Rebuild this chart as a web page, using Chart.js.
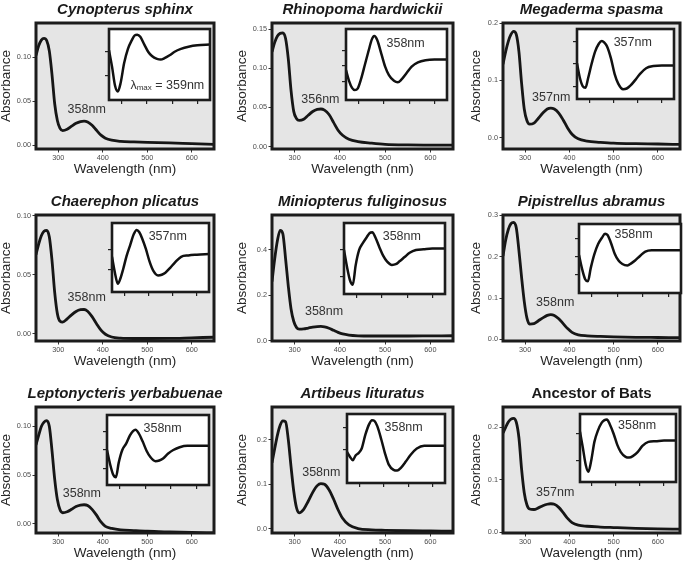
<!DOCTYPE html>
<html>
<head>
<meta charset="utf-8">
<title>Bat SWS1 opsin absorbance spectra</title>
<script src="https://cdn.jsdelivr.net/npm/chart.js@4.4.1/dist/chart.umd.min.js"></script>
<style>
  html, body { margin: 0; padding: 0; background: #fff; }
  #page { position: relative; width: 685px; height: 561px; overflow: hidden; }
  #page canvas { position: absolute; }
</style>
</head>
<body>
<div id="page"></div>
<script>
// wavelength grid (nm) for the main spectra
const wavelengths = [250, 256, 262, 268, 274, 280, 286, 292, 298, 304, 310, 320, 330, 340, 350, 358, 366, 376, 386, 396, 406, 420, 440, 470, 500, 550, 600, 650];
// wavelength grid (nm) for the inset difference spectra
const insetWavelengths = [250, 262, 274, 285, 296, 310, 325, 340, 352, 362, 374, 390, 405, 420, 440, 455, 470, 490, 510, 535, 565, 600, 650];
const xTicks = [300, 400, 500, 600];

const titles = ['Cynopterus sphinx', 'Rhinopoma hardwickii', 'Megaderma spasma',
  'Chaerephon plicatus', 'Miniopterus fuliginosus', 'Pipistrellus abramus',
  'Leptonycteris yerbabuenae', 'Artibeus lituratus', 'Ancestor of Bats'];
const mainPeaks = ['358nm', '356nm', '357nm', '358nm', '358nm', '358nm', '358nm', '358nm', '357nm'];
const insetPeaks = ['359nm', '358nm', '357nm', '357nm', '358nm', '358nm', '358nm', '358nm', '358nm'];

// absorbance
const cynopterus   = [0.102, 0.113, 0.1195, 0.1215, 0.119, 0.107, 0.080, 0.047, 0.028, 0.019, 0.0165, 0.018, 0.0215, 0.0248, 0.0268, 0.0272, 0.0262, 0.0225, 0.0168, 0.0113, 0.0078, 0.0055, 0.0042, 0.0035, 0.003, 0.0025, 0.0016, 0.0008];
const rhinopoma    = [0.121, 0.133, 0.141, 0.1445, 0.145, 0.138, 0.112, 0.072, 0.045, 0.036, 0.0335, 0.035, 0.040, 0.0448, 0.0475, 0.048, 0.0465, 0.041, 0.031, 0.021, 0.0145, 0.0095, 0.0065, 0.0045, 0.003, 0.0022, 0.002, 0.002];
const megaderma    = [0.128, 0.150, 0.168, 0.180, 0.1855, 0.180, 0.150, 0.095, 0.050, 0.030, 0.0235, 0.0255, 0.034, 0.043, 0.050, 0.0517, 0.050, 0.043, 0.031, 0.017, 0.006, -0.002, -0.006, -0.008, -0.0095, -0.0105, -0.011, -0.0118];
const chaerephon   = [0.067, 0.076, 0.083, 0.0868, 0.0875, 0.082, 0.062, 0.035, 0.017, 0.0105, 0.0098, 0.0125, 0.016, 0.0188, 0.0203, 0.0205, 0.019, 0.0145, 0.0085, 0.003, -0.0005, -0.0028, -0.0038, -0.0041, -0.0041, -0.004, -0.0035, -0.003];
const miniopterus  = [0.26, 0.36, 0.44, 0.485, 0.47, 0.36, 0.24, 0.14, 0.085, 0.058, 0.050, 0.051, 0.055, 0.059, 0.0615, 0.062, 0.060, 0.054, 0.045, 0.036, 0.029, 0.024, 0.021, 0.020, 0.020, 0.020, 0.0205, 0.021];
const pipistrellus = [0.202, 0.240, 0.266, 0.280, 0.283, 0.270, 0.215, 0.150, 0.092, 0.052, 0.037, 0.038, 0.045, 0.052, 0.058, 0.060, 0.058, 0.050, 0.038, 0.026, 0.017, 0.011, 0.0085, 0.007, 0.006, 0.005, 0.0045, 0.004];
const leptonycteris = [0.081, 0.091, 0.100, 0.1045, 0.106, 0.100, 0.075, 0.046, 0.025, 0.0145, 0.0115, 0.0125, 0.015, 0.0178, 0.0193, 0.0197, 0.019, 0.015, 0.009, 0.002, -0.0025, -0.0045, -0.006, -0.0068, -0.0075, -0.0082, -0.0088, -0.0093];
const artibeus     = [0.148, 0.180, 0.210, 0.232, 0.242, 0.240, 0.200, 0.140, 0.085, 0.048, 0.036, 0.044, 0.062, 0.082, 0.097, 0.1015, 0.100, 0.088, 0.067, 0.043, 0.024, 0.009, 0.001, -0.002, -0.003, -0.004, -0.0045, -0.005];
const ancestor     = [0.189, 0.200, 0.210, 0.2155, 0.217, 0.210, 0.180, 0.120, 0.075, 0.052, 0.044, 0.043, 0.046, 0.050, 0.053, 0.054, 0.053, 0.047, 0.037, 0.026, 0.018, 0.013, 0.011, 0.0095, 0.0085, 0.007, 0.006, 0.0055];

// inset curves (relative units, 0 = inset bottom, 100 = inset top)
const insetCynopterus   = [70, 47, 20, 12, 24, 52, 72, 84, 91, 92, 89, 78, 68, 62, 58, 57, 59, 63, 68, 72, 75, 77, 78];
const insetRhinopoma    = [42, 27, 17, 14, 16, 30, 50, 70, 85, 90, 84, 65, 47, 35, 27, 25, 29, 38, 47, 53, 56, 57, 57];
const insetMegaderma    = [51, 30, 18, 16, 30, 50, 68, 79, 83, 81, 75, 58, 36, 22, 14, 15, 19, 27, 36, 44, 47, 48, 48];
const insetChaerephon   = [51, 28, 12, 20, 33, 52, 68, 84, 90, 87, 78, 62, 44, 31, 24, 25, 28, 35, 43, 51, 53, 54, 55];
const insetMiniopterus  = [62, 38, 19, 13, 40, 62, 72, 80, 86, 87, 80, 66, 54, 46, 41, 42, 46, 52, 58, 62, 63, 64, 64];
const insetPipistrellus = [55, 35, 20, 17, 36, 56, 71, 80, 86, 84, 74, 57, 47, 42, 40, 43, 47, 54, 60, 62, 62, 62, 62];
const insetLeptonycteris = [50, 30, 15, 11, 32, 50, 59, 71, 77, 79, 74, 62, 49, 40, 34, 35, 38, 45, 50, 54, 56, 56, 56];
const insetArtibeus     = [45, 38, 33, 40, 43, 50, 70, 85, 91, 90, 82, 63, 43, 27, 19, 18, 22, 31, 41, 50, 54, 54, 54];
const insetAncestor     = [74, 50, 25, 15, 30, 59, 76, 87, 91, 92, 85, 71, 55, 44, 37, 36, 38, 44, 53, 59, 60, 61, 61];

// y tick values
const ticks005 = [0, 0.05, 0.10];
const ticks015 = [0, 0.05, 0.10, 0.15];
const ticks02 = [0, 0.1, 0.2];
const ticks03 = [0, 0.1, 0.2, 0.3];
const ticks04 = [0, 0.2, 0.4];

const FONT = '"Liberation Sans", Arial, Helvetica, sans-serif';
Chart.defaults.font.family = FONT;

// layout of the 3x3 grid
const colLeft = [36, 272, 503];
const colRight = [214, 453, 680];
const colAxisW = [36, 36, 33];
const colPadR = [10, 3, 3];
const rowTop = [23, 215, 407];
const plotH = 126;
const titleH = 23;
const xAxisH = 27;

const panels = [
  { values: cynopterus, inset: insetCynopterus, yMin: -0.0045, yMax: 0.139, yTicks: ticks005, dec: 2,
    peakAt: [364, 0.040], box: [109, 29, 101, 71], insetTicks: [34, 68], insetPeakAt: [481, 21], lambda: true },
  { values: rhinopoma, inset: insetRhinopoma, yMin: -0.003, yMax: 0.1577, yTicks: ticks015, dec: 2,
    peakAt: [357, 0.0598], box: [346, 29, 101, 71], insetTicks: [26, 49, 70], insetPeakAt: [486, 80] },
  { values: megaderma, inset: insetMegaderma, yMin: -0.0197, yMax: 0.2, yTicks: ticks02, dec: 1,
    peakAt: [359, 0.0707], box: [577, 29, 97, 70], insetTicks: [17, 51, 82], insetPeakAt: [480, 80] },
  { values: chaerephon, inset: insetChaerephon, yMin: -0.0062, yMax: 0.1006, yTicks: ticks005, dec: 2,
    peakAt: [364, 0.0303], box: [112, 223, 97, 69], insetTicks: [32, 61], insetPeakAt: [480, 80] },
  { values: miniopterus, inset: insetMiniopterus, yMin: -0.002, yMax: 0.5526, yTicks: ticks04, dec: 1,
    peakAt: [365, 0.128], box: [344, 223, 101, 71], insetTicks: [24, 62], insetPeakAt: [479, 81] },
  { values: pipistrellus, inset: insetPipistrellus, yMin: -0.004, yMax: 0.301, yTicks: ticks03, dec: 1,
    peakAt: [368, 0.089], box: [579, 224, 102, 69], insetTicks: [26, 53, 79], insetPeakAt: [464, 85] },
  { values: leptonycteris, inset: insetLeptonycteris, yMin: -0.0093, yMax: 0.12, yTicks: ticks005, dec: 2,
    peakAt: [353, 0.031], box: [107, 415, 102, 70], insetTicks: [24, 50, 76], insetPeakAt: [468, 81] },
  { values: artibeus, inset: insetArtibeus, yMin: -0.009, yMax: 0.273, yTicks: ticks02, dec: 1,
    peakAt: [359, 0.126], box: [347, 414, 98, 69], insetTicks: [48, 80], insetPeakAt: [481, 80] },
  { values: ancestor, inset: insetAncestor, yMin: -0.0019, yMax: 0.2387, yTicks: ticks02, dec: 1,
    peakAt: [368, 0.0744], box: [580, 414, 96, 68], insetTicks: [31, 71], insetPeakAt: [488, 83] }
];

// grey panel background + thick black frame
const framePlugin = {
  id: 'frame',
  beforeDatasetsDraw(chart, args, opts) {
    const a = chart.chartArea, ctx = chart.ctx;
    ctx.save();
    ctx.fillStyle = opts.bg;
    ctx.fillRect(a.left, a.top, a.right - a.left, a.bottom - a.top);
    ctx.restore();
  },
  afterDatasetsDraw(chart, args, opts) {
    const a = chart.chartArea, ctx = chart.ctx;
    ctx.save();
    ctx.strokeStyle = '#1c1c1c';
    ctx.lineWidth = opts.width;
    ctx.strokeRect(a.left, a.top, a.right - a.left, a.bottom - a.top);
    ctx.restore();
  }
};

// species title centred over the plot panel (no width squeezing)
const panelTitlePlugin = {
  id: 'panelTitle',
  afterDraw(chart, args, opts) {
    if (!opts || !opts.text) return;
    const a = chart.chartArea, ctx = chart.ctx;
    ctx.save();
    ctx.font = opts.style + ' bold 15px ' + FONT;
    ctx.fillStyle = '#1a1a1a';
    ctx.textAlign = 'center';
    ctx.textBaseline = 'middle';
    ctx.fillText(opts.text, (a.left + a.right) / 2, a.top - 13);
    ctx.restore();
  }
};

// "358nm" style peak labels, placed in data coordinates
const peakPlugin = {
  id: 'peakLabel',
  afterDatasetsDraw(chart, args, opts) {
    if (!opts || !opts.text) return;
    const ctx = chart.ctx;
    const px = chart.scales.x.getPixelForValue(opts.at[0]);
    const py = chart.scales.y.getPixelForValue(opts.at[1]);
    const big = '12.5px ' + FONT;
    const small = '8px ' + FONT;
    ctx.save();
    ctx.fillStyle = '#333';
    ctx.textBaseline = 'middle';
    if (opts.lambda) {
      const parts = [['\u03bb', big, 0], ['max', small, 3], [' = ' + opts.text, big, 0]];
      let total = 0;
      parts.forEach(p => { ctx.font = p[1]; total += ctx.measureText(p[0]).width; });
      let cx = px - total / 2;
      ctx.textAlign = 'left';
      parts.forEach(p => {
        ctx.font = p[1];
        ctx.fillText(p[0], cx, py + p[2]);
        cx += ctx.measureText(p[0]).width;
      });
    } else {
      ctx.font = big;
      ctx.textAlign = 'center';
      ctx.fillText(opts.text, px, py);
    }
    ctx.restore();
  }
};

const page = document.getElementById('page');

function makeCanvas(left, top, w, h) {
  const c = document.createElement('canvas');
  c.width = w;
  c.height = h;
  c.style.left = left + 'px';
  c.style.top = top + 'px';
  c.style.width = w + 'px';
  c.style.height = h + 'px';
  page.appendChild(c);
  return c;
}

function toPoints(xs, ys) {
  return xs.map((x, i) => ({ x: x, y: ys[i] }));
}

function renderPanel(p, i) {
  const col = i % 3, row = Math.floor(i / 3);
  const yW = colAxisW[col];
  const plotW = colRight[col] - colLeft[col];
  const left = colLeft[col] - yW;
  const top = rowTop[row] - titleH;
  const canvas = makeCanvas(left, top, yW + plotW + colPadR[col], titleH + plotH + xAxisH);

  new Chart(canvas, {
    type: 'line',
    data: {
      datasets: [{
        data: toPoints(wavelengths, p.values),
        borderColor: '#161616',
        borderWidth: 2.8,
        pointRadius: 0,
        cubicInterpolationMode: 'monotone'
      }]
    },
    options: {
      responsive: false,
      animation: false,
      events: [],
      devicePixelRatio: 1,
      layout: { padding: { left: 0, right: colPadR[col], top: titleH, bottom: 0 } },
      plugins: {
        legend: { display: false },
        tooltip: { enabled: false },
        title: { display: false },
        panelTitle: { text: titles[i], style: i === 8 ? 'normal' : 'italic' },
        frame: { bg: '#e5e5e5', width: 3 },
        peakLabel: { text: mainPeaks[i], at: p.peakAt }
      },
      scales: {
        x: {
          type: 'linear',
          min: 250,
          max: 650,
          afterBuildTicks: s => { s.ticks = xTicks.map(v => ({ value: v })); },
          afterFit: s => { s.height = xAxisH; s.paddingLeft = 0; s.paddingRight = 0; },
          grid: { drawOnChartArea: false, tickLength: 3.5, color: '#333', lineWidth: 1 },
          border: { display: false },
          ticks: { font: { size: 7.3 }, color: '#4d4d4d', padding: 1.5, maxRotation: 0, autoSkip: false },
          title: { display: true, text: 'Wavelength (nm)', color: '#262626',
                   font: { size: 13.5, weight: 'normal', lineHeight: 1 }, padding: 0 }
        },
        y: {
          min: p.yMin,
          max: p.yMax,
          afterBuildTicks: s => { s.ticks = p.yTicks.map(v => ({ value: v })); },
          afterFit: s => { s.width = yW; s.paddingTop = 0; s.paddingBottom = 0; },
          grid: { drawOnChartArea: false, tickLength: 3.5, color: '#333', lineWidth: 1 },
          border: { display: false },
          ticks: { font: { size: 7.3 }, color: '#4d4d4d', padding: 1.5, autoSkip: false,
                   callback: v => Number(v).toFixed(p.dec) },
          title: { display: true, text: 'Absorbance', color: '#262626',
                   font: { size: 13.5, weight: 'normal', lineHeight: 1 }, padding: 0 }
        }
      }
    },
    plugins: [framePlugin, peakPlugin, panelTitlePlugin]
  });
}

function renderInset(p, i) {
  const b = p.box;
  const canvas = makeCanvas(b[0] - 5, b[1] - 2, b[2] + 7, b[3] + 7);

  new Chart(canvas, {
    type: 'line',
    data: {
      datasets: [{
        data: toPoints(insetWavelengths, p.inset),
        borderColor: '#111',
        borderWidth: 2.5,
        pointRadius: 0,
        cubicInterpolationMode: 'monotone'
      }]
    },
    options: {
      responsive: false,
      animation: false,
      events: [],
      devicePixelRatio: 1,
      layout: { padding: { left: 0, right: 2, top: 2, bottom: 0 } },
      plugins: {
        legend: { display: false },
        tooltip: { enabled: false },
        frame: { bg: '#ffffff', width: 2.6 },
        peakLabel: { text: insetPeaks[i], at: p.insetPeakAt, lambda: !!p.lambda }
      },
      scales: {
        x: {
          type: 'linear',
          min: 250,
          max: 650,
          afterBuildTicks: s => { s.ticks = xTicks.map(v => ({ value: v })); },
          afterFit: s => { s.height = 5; s.paddingLeft = 0; s.paddingRight = 0; },
          grid: { drawOnChartArea: false, tickLength: 4, color: '#222', lineWidth: 1.2 },
          border: { display: false },
          ticks: { display: false }
        },
        y: {
          min: 0,
          max: 100,
          afterBuildTicks: s => { s.ticks = p.insetTicks.map(v => ({ value: v })); },
          afterFit: s => { s.width = 5; s.paddingTop = 0; s.paddingBottom = 0; },
          grid: { drawOnChartArea: false, tickLength: 4, color: '#222', lineWidth: 1.2 },
          border: { display: false },
          ticks: { display: false }
        }
      }
    },
    plugins: [framePlugin, peakPlugin]
  });
}

panels.forEach(renderPanel);
panels.forEach(renderInset);
</script>
</body>
</html>
